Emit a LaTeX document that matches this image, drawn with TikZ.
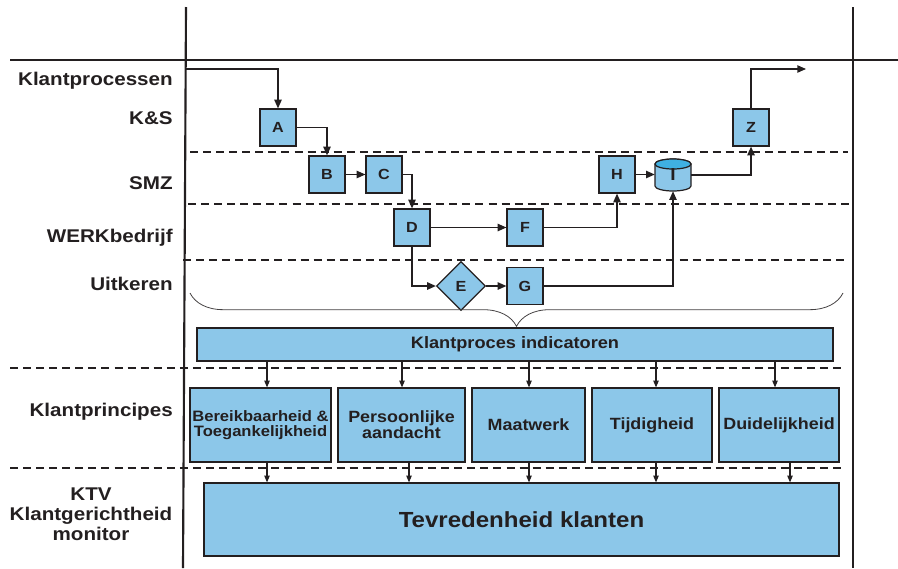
\documentclass[tikz,border=0pt]{standalone}
\usepackage{fontspec}
\setmainfont{Liberation Sans}
\newfontfamily\labfont{Liberation Sans}[FakeStretch=1.12]
\newfontfamily\boxfont{Liberation Sans}[FakeStretch=1.1]
\usetikzlibrary{arrows.meta,shapes.geometric,decorations.pathreplacing}

\definecolor{boxblue}{HTML}{8CC7E9}
\definecolor{topblue}{HTML}{3FB0E2}
\definecolor{ink}{HTML}{231F20}

\begin{document}
\begin{tikzpicture}[x=0.75pt,y=-0.75pt,
  frame/.style={line width=1.6pt, draw=ink},
  lane/.style={line width=1.5pt, draw=ink, dash pattern=on 6pt off 3.8pt},
  lanelabel/.style={anchor=east, inner sep=0pt, text=ink,
    font=\labfont\bfseries\fontsize{13.8}{16}\selectfont},
  stepbox/.style={draw=ink, line width=0.9pt, fill=boxblue, inner sep=0pt,
    minimum width=27pt, minimum height=27.75pt, text=ink,
    font=\boxfont\bfseries\fontsize{11}{12}\selectfont},
  decision/.style={stepbox, shape=diamond, minimum width=36.75pt, minimum height=36.75pt},
  bigbox/.style={draw=ink, line width=0.9pt, fill=boxblue, inner sep=0pt, text=ink,
    align=center, font=\boxfont\bfseries\fontsize{12.2}{12}\selectfont},
  flow/.style={draw=ink, line width=1pt, -{Triangle[length=6.5pt,width=5.5pt]}},
  feed/.style={draw=ink, line width=0.8pt, -{Triangle[length=5pt,width=4pt]}}
]
\useasboundingbox (0,0) rectangle (898,568);

% swimlane frame
\draw[frame] (186,7) -- (183,568);
\draw[frame] (853,7) -- (853,568);
\draw[frame] (10,60) -- (898,60);
\draw[lane] (190,152) -- (848,152);
\draw[lane] (188,204) -- (850,204);
\draw[lane] (183,260) -- (845,260);
\draw[lane] (10,368) -- (843,368);
\draw[lane] (10,468) -- (843,468);

% lane labels
\node[lanelabel] (lKP) at (173,81) {Klantprocessen};
\node[lanelabel] (lKS) at (173,118) {K\&S};
\node[lanelabel] (lSMZ) at (173,183) {SMZ};
\node[lanelabel] (lWB) at (173,238) {WERKbedrijf};
\node[lanelabel] (lUK) at (173,284) {Uitkeren};
\node[lanelabel] (lPR) at (173,412) {Klantprincipes};
\node[lanelabel, anchor=center, align=center, font=\labfont\bfseries\fontsize{13.8}{15}\selectfont]
  (lKTV) at (91,514) {KTV\\Klantgerichtheid\\monitor};

% process steps
\node[stepbox] (A) at (278,127.5) {A};
\node[stepbox] (B) at (327,174.5) {B};
\node[stepbox] (C) at (384,174.5) {C};
\node[stepbox] (D) at (412,227.5) {D};
\node[stepbox] (F) at (525,227.5) {F};
\node[decision] (E) at (461,286) {E};
\node[stepbox] (G) at (525,286) {G};
\node[stepbox] (H) at (617,174.5) {H};
\node[stepbox] (Z) at (751,127.5) {Z};

% data store I (cylinder)
\draw[draw=ink, line width=0.9pt, fill=boxblue]
  (655,164) -- (655,186) arc[start angle=180, end angle=360, x radius=13.5pt, y radius=3.75pt]
  -- (691,164) arc[start angle=0, end angle=180, x radius=13.5pt, y radius=3.75pt] -- cycle;
\draw[draw=ink, line width=0.9pt, fill=topblue] (673,164) ellipse [x radius=13.5pt, y radius=3.75pt];
\node[inner sep=0pt, minimum width=27pt, minimum height=24pt, text=ink,
  font=\boxfont\bfseries\fontsize{13}{14}\selectfont] (I) at (673,175) {\raisebox{-3pt}{I}};

\coordinate (in) at (185,69);
\coordinate (out) at (806,69);

% process flow
\draw[flow] (in) -| (A.north);
\draw[flow] (A.east) -| (B.north);
\draw[flow] (B) -- (C);
\draw[flow] (C.east) -| (D.north);
\draw[flow] (D) -- (F);
\draw[flow] (D.south) |- (E.west);
\draw[flow] (E) -- (G);
\draw[flow] (F.east) -| (H.south);
\draw[flow] (H.east) -- (H.east -| I.west);
\draw[flow] (G.east) -| (I.south);
\draw[flow] (I.east) -| (Z.south);
\draw[flow] (Z.north) |- (out);

% brace gathering the process lanes
\coordinate (brR) at (843,293);
\coordinate (brL) at (190,293);
\draw[ink!85, line width=0.6pt, decorate, decoration={brace, amplitude=25pt, aspect=0.5}] (brR) -- (brL);

% indicators and principles
\node[bigbox, minimum width=477pt, minimum height=24.75pt,
  font=\boxfont\bfseries\fontsize{12.4}{14}\selectfont] (kpi) at (515,344.5) {Klantproces indicatoren};

\node[bigbox, minimum width=105.75pt, minimum height=55.5pt,
  font=\boxfont\bfseries\fontsize{11.3}{11.5}\selectfont] (p1) at (260.5,425) {Bereikbaarheid \&\\Toegankelijkheid};
\node[bigbox, minimum width=95.25pt, minimum height=55.5pt] (p2) at (401.5,425) {Persoonlijke\\aandacht};
\node[bigbox, minimum width=84.75pt, minimum height=55.5pt] (p3) at (528.5,425) {Maatwerk};
\node[bigbox, minimum width=90pt, minimum height=55.5pt] (p4) at (652,425) {Tijdigheid};
\node[bigbox, minimum width=90pt, minimum height=55.5pt] (p5) at (779,425) {Duidelijkheid};

\node[bigbox, minimum width=476.25pt, minimum height=54.75pt,
  font=\boxfont\bfseries\fontsize{16.4}{18}\selectfont] (tev) at (521.5,519.5) {Tevredenheid klanten};

% arrow columns
\coordinate (a1) at (267,0);
\coordinate (a2) at (402,0);
\coordinate (a3) at (529,0);
\coordinate (a4) at (656,0);
\coordinate (a5) at (775,0);
\coordinate (b1) at (267,0);
\coordinate (b2) at (409,0);
\coordinate (b3) at (529,0);
\coordinate (b4) at (656,0);
\coordinate (b5) at (790,0);

\draw[feed] (kpi.south -| a1) -- (p1.north -| a1);
\draw[feed] (kpi.south -| a2) -- (p2.north -| a2);
\draw[feed] (kpi.south -| a3) -- (p3.north -| a3);
\draw[feed] (kpi.south -| a4) -- (p4.north -| a4);
\draw[feed] (kpi.south -| a5) -- (p5.north -| a5);

\draw[feed] (p1.south -| b1) -- (tev.north -| b1);
\draw[feed] (p2.south -| b2) -- (tev.north -| b2);
\draw[feed] (p3.south -| b3) -- (tev.north -| b3);
\draw[feed] (p4.south -| b4) -- (tev.north -| b4);
\draw[feed] (p5.south -| b5) -- (tev.north -| b5);
\end{tikzpicture}
\end{document}
